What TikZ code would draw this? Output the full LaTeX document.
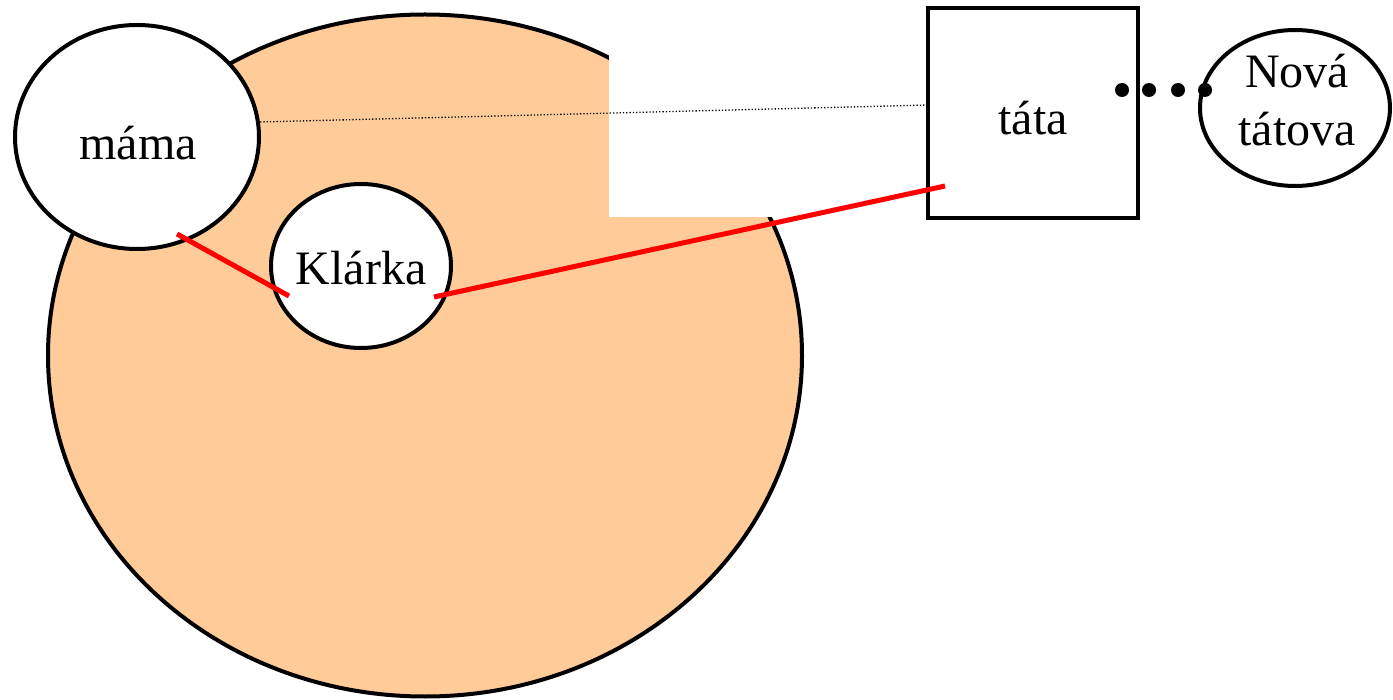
\documentclass[tikz,border=0pt]{standalone}
\usepackage{fontspec}
\setmainfont{Liberation Serif}
\usetikzlibrary{shapes.geometric}
\definecolor{peach}{HTML}{FFCC99}
\tikzset{
  outl/.style={draw=black,line width=4pt},
  person/.style={outl,ellipse,fill=white,inner sep=0pt},
  lbl/.style={font=\fontsize{48}{58}\selectfont,align=center},
  redline/.style={draw=red,line width=5pt},
  bigdot/.style={circle,fill=black,minimum size=14pt,inner sep=0pt}
}
\begin{document}
\begin{tikzpicture}[x=1pt,y=-1pt]
\useasboundingbox (0,0) rectangle (1393,700);
% big household circle
\node[outl,ellipse,fill=peach,minimum width=754pt,minimum height=682pt,inner sep=0pt] (home) at (425,355.5) {};
% white cut-out
\fill[white] (609,0) rectangle (900,217.5);
% nodes
\node[person,minimum width=244pt,minimum height=224pt] (mama) at (137,137) {};
\node[lbl] (mamat) at (138,143) {máma};
\node[person,minimum width=180pt,minimum height=164pt] (klarka) at (361,266) {};
\node[lbl] (klarkat) at (361,268) {Klárka};
\node[outl,rectangle,fill=white,minimum width=210pt,minimum height=210pt,inner sep=0pt] (tata) at (1033,113) {};
\node[lbl] (tatat) at (1033,118) {táta};
\node[person,minimum width=190pt,minimum height=156pt] (nova) at (1295,108) {};
\node[lbl] (novat) at (1297,100) {Nová\\tátova};
% dotted connection
\coordinate (d1) at (260,122);
\coordinate (d2) at (928,105);
\draw[dotted,line width=1.3pt] (d1) -- (d2);
% dots
\node[bigdot] (p1) at (1122,90) {};
\node[bigdot] (p2) at (1149,90) {};
\node[bigdot] (p3) at (1178,90) {};
\node[bigdot] (p4) at (1205,90) {};
% red lines
\coordinate (r1a) at (177,234);
\coordinate (r1b) at (289,296);
\coordinate (r2a) at (434,297);
\coordinate (r2b) at (945,186);
\draw[redline] (r1a) -- (r1b);
\draw[redline] (r2a) -- (r2b);
\end{tikzpicture}
\end{document}
